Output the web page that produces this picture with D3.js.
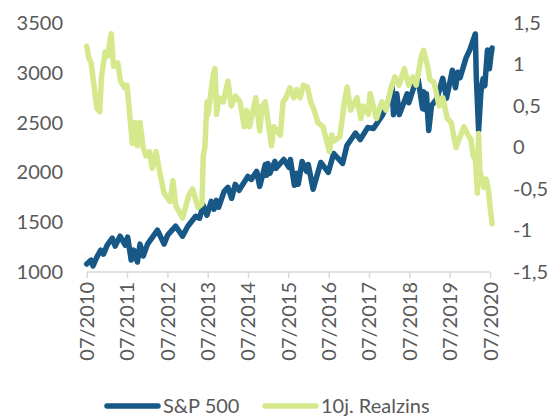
<!DOCTYPE html>
<html lang="de">
<head>
<meta charset="utf-8">
<title>S&amp;P 500 vs. 10j. Realzins</title>
<script src="https://cdn.jsdelivr.net/npm/d3@7"></script>
<style>
  html, body { margin: 0; padding: 0; background: #fff; }
  svg { display: block; }
  .tick-label { font-family: Lato, "Open Sans", sans-serif; font-size: 20px; fill: #595959; }
</style>
</head>
<body>
<svg id="chart" width="555" height="416"></svg>
<script>
// S&P 500 (left axis)
const spDates = ["2010-07-01","2010-08-10","2010-08-27","2010-10-01","2010-11-05","2010-11-30","2011-01-03","2011-02-18","2011-03-16","2011-04-29","2011-06-15","2011-07-07","2011-08-08","2011-08-31","2011-10-03","2011-10-27","2011-11-25","2012-01-03","2012-04-02","2012-06-01","2012-07-03","2012-09-14","2012-11-15","2013-01-02","2013-03-14","2013-04-18","2013-05-21","2013-06-24","2013-08-02","2013-08-27","2013-09-18","2013-10-08","2013-11-27","2013-12-31","2014-02-03","2014-03-07","2014-04-11","2014-06-30","2014-07-31","2014-09-18","2014-10-15","2014-12-05","2014-12-16","2014-12-29","2015-01-15","2015-03-02","2015-03-11","2015-05-21","2015-07-08","2015-07-20","2015-08-25","2015-09-16","2015-09-29","2015-11-03","2015-12-14","2015-12-29","2016-02-11","2016-04-20","2016-06-27","2016-08-15","2016-11-04","2016-12-13","2017-03-01","2017-04-13","2017-06-19","2017-08-10","2017-10-31","2017-12-18","2018-01-26","2018-02-08","2018-03-09","2018-04-02","2018-06-12","2018-06-27","2018-08-29","2018-09-20","2018-10-29","2018-11-07","2018-11-23","2018-12-03","2018-12-24","2019-01-18","2019-03-08","2019-04-30","2019-06-03","2019-07-26","2019-08-23","2019-09-13","2019-10-04","2019-11-27","2019-12-31","2020-02-19","2020-02-28","2020-03-20","2020-04-09","2020-04-29","2020-05-15","2020-06-08","2020-06-26","2020-07-10","2020-07-20"];
const spValues = [1080,1120,1060,1150,1220,1180,1270,1340,1260,1360,1270,1350,1120,1220,1100,1280,1160,1280,1420,1280,1370,1460,1360,1460,1560,1540,1670,1570,1710,1630,1720,1650,1810,1850,1740,1880,1820,1960,1930,2010,1860,2080,1970,2090,1990,2110,2040,2130,2050,2130,1870,1990,1880,2110,2010,2080,1830,2100,2000,2190,2090,2270,2395,2330,2450,2440,2575,2690,2870,2580,2790,2580,2790,2700,2915,2930,2640,2810,2630,2790,2420,2670,2740,2945,2745,3025,2850,3005,2950,3150,3230,3390,2950,2420,2800,2940,2870,3230,3040,3180,3250];

// 10j. Realzins (right axis)
const ryDates = ["2010-07-01","2010-07-20","2010-08-10","2010-08-31","2010-10-01","2010-10-27","2010-11-12","2010-12-15","2011-01-05","2011-02-08","2011-03-01","2011-04-08","2011-05-03","2011-06-10","2011-07-01","2011-07-29","2011-08-18","2011-09-15","2011-10-03","2011-10-27","2011-11-25","2011-12-20","2012-01-20","2012-02-15","2012-03-20","2012-04-20","2012-06-01","2012-07-24","2012-08-20","2012-09-14","2012-11-15","2013-01-10","2013-02-15","2013-04-03","2013-05-10","2013-05-22","2013-06-05","2013-06-25","2013-07-05","2013-08-20","2013-09-05","2013-09-20","2013-10-10","2013-11-20","2013-12-31","2014-01-31","2014-03-10","2014-04-20","2014-05-28","2014-06-20","2014-07-15","2014-09-10","2014-10-15","2014-11-07","2014-12-05","2015-01-30","2015-02-20","2015-04-20","2015-05-15","2015-06-10","2015-07-15","2015-08-20","2015-09-15","2015-10-15","2015-11-15","2015-12-20","2016-01-20","2016-02-20","2016-03-25","2016-05-10","2016-07-08","2016-07-28","2016-08-20","2016-10-10","2016-11-20","2016-12-15","2017-01-15","2017-03-14","2017-04-18","2017-05-10","2017-06-25","2017-07-10","2017-09-07","2017-10-25","2017-12-01","2018-01-15","2018-02-20","2018-03-30","2018-05-17","2018-06-25","2018-08-01","2018-09-01","2018-10-18","2018-11-08","2018-12-15","2019-01-03","2019-02-10","2019-03-28","2019-05-01","2019-06-10","2019-07-15","2019-08-28","2019-10-10","2019-11-08","2019-12-15","2020-01-10","2020-01-30","2020-02-20","2020-03-09","2020-03-19","2020-04-01","2020-05-05","2020-05-28","2020-06-15","2020-07-01","2020-07-20"];
const ryValues = [1.22,1.08,1.02,0.80,0.47,0.43,0.85,1.15,1.10,1.37,0.98,1.02,0.80,0.72,0.75,0.35,0.05,0.30,0.02,0.30,0.00,-0.10,-0.05,-0.25,-0.05,-0.28,-0.55,-0.65,-0.40,-0.70,-0.85,-0.58,-0.50,-0.72,-0.68,-0.10,0.00,0.55,0.40,0.88,0.95,0.40,0.60,0.55,0.80,0.50,0.62,0.55,0.25,0.45,0.25,0.60,0.20,0.50,0.55,0.02,0.25,0.15,0.55,0.60,0.72,0.60,0.70,0.60,0.75,0.73,0.55,0.45,0.30,0.25,-0.05,0.15,0.08,0.13,0.55,0.73,0.45,0.60,0.35,0.50,0.40,0.65,0.35,0.55,0.45,0.70,0.85,0.75,0.95,0.75,0.85,0.75,1.10,1.17,0.97,0.82,0.78,0.50,0.60,0.35,0.30,0.00,0.15,0.25,0.15,0.10,-0.10,-0.15,-0.55,0.17,-0.28,-0.48,-0.38,-0.50,-0.70,-0.92];

const xTickDates = ["2010-07-01","2011-07-01","2012-07-01","2013-07-01","2014-07-01","2015-07-01","2016-07-01","2017-07-01","2018-07-01","2019-07-01","2020-07-01"];
const leftTicks = [1000, 1500, 2000, 2500, 3000, 3500];
const rightTicks = [-1.5, -1, -0.5, 0, 0.5, 1, 1.5];
const seriesNames = ["S&P 500", "10j. Realzins"];
const colors = ["#175887", "#d5e88b"];

const parse = d3.timeParse("%Y-%m-%d");
const svg = d3.select("#chart");

const x = d3.scaleTime()
  .domain([parse("2010-07-01"), parse("2020-07-01")])
  .range([86.7, 490]);
const yL = d3.scaleLinear().domain([1000, 3500]).range([272, 23]);
const yR = d3.scaleLinear().domain([-1.5, 1.5]).range([272, 23]);

const de = d3.formatLocale({decimal: ",", thousands: ".", grouping: [3], currency: ["", "€"], minus: "-"});
const fmtR = de.format("");

// x axis line + ticks
const xAxis = d3.axisBottom(x)
  .tickValues(xTickDates.map(parse))
  .tickSize(6)
  .tickFormat(d3.timeFormat("%m/%Y"));
const gx = svg.append("g").attr("transform", "translate(0,272)").call(xAxis);
gx.select(".domain").attr("stroke", "#d9d9d9").attr("stroke-width", 1.5).attr("d", `M${x.range()[0]},0H${x.range()[1]}`);
gx.selectAll(".tick line").attr("stroke", "#d9d9d9").attr("stroke-width", 1.5);
gx.selectAll(".tick text")
  .attr("class", "tick-label")
  .attr("font-family", null).attr("font-size", null)
  .attr("transform", "rotate(-90)")
  .attr("text-anchor", "end")
  .attr("x", -10).attr("y", 0).attr("dy", "0.35em");

// left axis labels
const gl = svg.append("g").attr("transform", "translate(63,0)")
  .call(d3.axisLeft(yL).tickValues(leftTicks).tickSize(0).tickPadding(0).tickFormat(d3.format("d")));
gl.select(".domain").remove();
gl.selectAll("text").attr("class", "tick-label").attr("font-family", null).attr("font-size", null);

// right axis labels
const gr = svg.append("g").attr("transform", "translate(513,0)")
  .call(d3.axisRight(yR).tickValues(rightTicks).tickSize(0).tickPadding(0).tickFormat(fmtR));
gr.select(".domain").remove();
gr.selectAll("text").attr("class", "tick-label").attr("font-family", null).attr("font-size", null);

// lines
const sp = spDates.map((d, i) => ({date: parse(d), v: spValues[i]}));
const ry = ryDates.map((d, i) => ({date: parse(d), v: ryValues[i]}));

svg.append("path").datum(sp)
  .attr("fill", "none").attr("stroke", colors[0]).attr("stroke-width", 5.5)
  .attr("stroke-linejoin", "round").attr("stroke-linecap", "round")
  .attr("d", d3.line().x(d => x(d.date)).y(d => yL(d.v)));

svg.append("path").datum(ry)
  .attr("fill", "none").attr("stroke", colors[1]).attr("stroke-width", 5.5)
  .attr("stroke-linejoin", "round").attr("stroke-linecap", "round")
  .attr("d", d3.line().x(d => x(d.date)).y(d => yR(d.v)));

// legend
const legendX = [107, 265];
const lg = svg.append("g").attr("transform", "translate(0,406)");
seriesNames.forEach((name, i) => {
  lg.append("line").attr("x1", legendX[i]).attr("x2", legendX[i] + 51)
    .attr("stroke", colors[i]).attr("stroke-width", 5.5).attr("stroke-linecap", "round");
  lg.append("text").attr("class", "tick-label").attr("x", legendX[i] + 56).attr("dy", "0.35em").text(name);
});
</script>
</body>
</html>
